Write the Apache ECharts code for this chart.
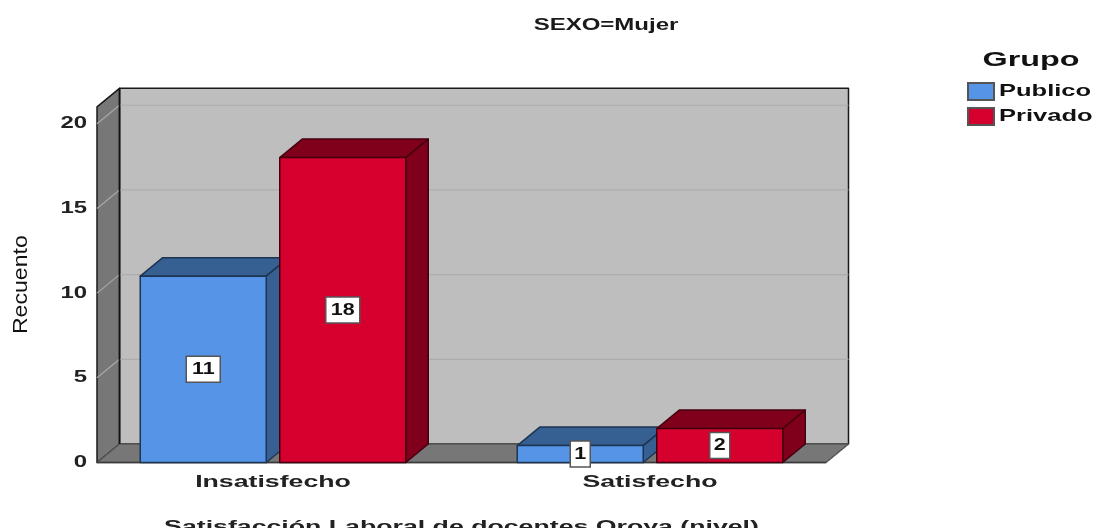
<!DOCTYPE html>
<html><head><meta charset="utf-8">
<style>html,body{margin:0;padding:0;background:#fff}#c{width:1096px;height:528px}</style>
<script src="https://cdn.jsdelivr.net/npm/echarts@6/dist/echarts.min.js"></script>
</head><body><div id="c"></div>
<script>
const categories = ['Insatisfecho', 'Satisfecho'];
const publico = [11, 1];
const privado = [18, 2];
const yTicks = [0, 5, 10, 15, 20];
const yMax = 21;
const chartTitle = 'SEXO=Mujer';
const legendTitle = 'Grupo';
const xName = 'Satisfacción Laboral de docentes Oroya (nivel)';
const yName = 'Recuento';

const FONT = '"Liberation Sans", Arial, sans-serif';
const INSET = 12.5, DX = 22.5, DY = -18.5;
const BAR_W = 126, BAR_GAP = 6.75;
const seriesStyle = {
  Publico: {front:'#5594e6', dark:'#365f92', line:'#1d3553', dir:-1},
  Privado: {front:'#d6002e', dark:'#80001c', line:'#45000f', dir:1}
};
const lineStyle = (c, w) => ({stroke:c, lineWidth:w, fill:null});

function renderFrame(params, api) {
  const cs = params.coordSys;
  const L = cs.x + INSET, R = cs.x + cs.width - INSET;
  const yZero = api.coord([0, 0])[1], T = cs.y;
  const kids = [];
  const poly = (pts, fill, stroke) => kids.push({type:'polygon', shape:{points:pts},
    style:{fill, stroke:stroke||'#1a1a1a', lineWidth:1.5, lineJoin:'round'}});
  poly([[L+DX,T+DY],[R+DX,T+DY],[R+DX,yZero+DY],[L+DX,yZero+DY]], '#bebebe');
  poly([[L,T],[L+DX,T+DY],[L+DX,yZero+DY],[L,yZero]], '#777777');
  poly([[L,yZero],[L+DX,yZero+DY],[R+DX,yZero+DY],[R,yZero]], '#777777', '#555555');
  yTicks.slice(1).forEach(t => {
    const y = api.coord([0, t])[1];
    kids.push({type:'polyline', shape:{points:[[L,y],[L+DX,y+DY]]}, style:lineStyle('#a8a8a8',1.2)});
    kids.push({type:'line', shape:{x1:L+DX,y1:y+DY,x2:R+DX,y2:y+DY}, style:lineStyle('#adadad',1.2)});
  });
  kids.push({type:'line', shape:{x1:L,y1:yZero,x2:R,y2:yZero}, style:lineStyle('#3a3a3a',1.5)});
  kids.push({type:'line', shape:{x1:L+DX,y1:T+DY,x2:L+DX,y2:yZero+DY}, style:lineStyle('#111',1.5)});
  return {type:'group', children:kids};
}

function renderBar(name) {
  const s = seriesStyle[name];
  return function (params, api) {
    const cat = api.value(0), v = api.value(1);
    const top = api.coord([cat, v]), base = api.coord([cat, 0]);
    const x0 = s.dir < 0 ? top[0] - BAR_GAP - BAR_W : top[0] + BAR_GAP;
    const x1 = x0 + BAR_W, yT = top[1], yB = base[1];
    const st = f => ({fill:f, stroke:s.line, lineWidth:1.5, lineJoin:'round'});
    const cx = (x0 + x1) / 2, cy = (yT + yB) / 2;
    const boxW = String(v).length > 1 ? 34 : 20;
    return {type:'group', children:[
      {type:'polygon', shape:{points:[[x0,yT],[x0+DX,yT+DY],[x1+DX,yT+DY],[x1,yT]]}, style:st(s.dark)},
      {type:'polygon', shape:{points:[[x1,yT],[x1+DX,yT+DY],[x1+DX,yB+DY],[x1,yB]]}, style:st(s.dark)},
      {type:'rect', shape:{x:x0,y:yT,width:BAR_W,height:yB-yT}, style:st(s.front)},
      {type:'rect', shape:{x:cx-boxW/2,y:cy-13,width:boxW,height:26}, style:{fill:'#fff',stroke:'#555',lineWidth:1.5}},
      {type:'text', x:cx, y:cy, scaleX:1.3, style:{text:String(v), align:'center', verticalAlign:'middle',
        fill:'#111', font:'bold 16.5px ' + FONT}}
    ]};
  };
}

const chart = echarts.init(document.getElementById('c'), null, {renderer:'canvas'});
chart.setOption({
  animation:false,
  backgroundColor:'#fff',
  title:[
    {text:chartTitle, left:606, top:26, padding:0, textAlign:'center', textVerticalAlign:'middle',
     textStyle:{fontFamily:FONT, fontSize:16, fontWeight:'bold', color:'#1a1a1a'}},
    {text:legendTitle, left:1031, top:60, padding:0, textAlign:'center', textVerticalAlign:'middle',
     textStyle:{fontFamily:FONT, fontSize:21, fontWeight:'bold', color:'#111'}}
  ],
  legend:{orient:'vertical', left:967, top:82, padding:0, itemWidth:26, itemHeight:17, itemGap:6, icon:'rect',
    data:['Publico','Privado'], selectedMode:false,
    textStyle:{fontFamily:FONT, fontSize:17, fontWeight:'bold', color:'#111'}},
  grid:{left:84.5, width:754, top:106.8, height:355.7, containLabel:false, outerBoundsMode:'none'},
  xAxis:{type:'category', data:categories, axisLine:{show:false}, axisTick:{show:false},
    axisLabel:{margin:11, fontFamily:FONT, fontSize:17, fontWeight:'bold', color:'#222'},
    name:xName, nameLocation:'middle', nameGap:56,
    nameTextStyle:{fontFamily:FONT, fontSize:17, fontWeight:'bold', color:'#222'}},
  yAxis:{type:'value', min:0, max:yMax, interval:5, offset:-INSET,
    axisLine:{show:false}, axisTick:{show:false}, splitLine:{show:false},
    axisLabel:{showMaxLabel:false, margin:10, padding:[6,0,0,0], fontFamily:FONT, fontSize:16.5, fontWeight:'bold', color:'#222'},
    name:yName, nameLocation:'middle', nameGap:65, nameRotate:90,
    nameTextStyle:{fontFamily:'"Liberation Sans Narrow", "Liberation Sans", sans-serif', fontSize:21, color:'#111'}},
  series:[
    {type:'custom', name:'frame', silent:true, z:1, renderItem:renderFrame, data:[[0,0]],
     encode:{x:0,y:1}},
    {type:'custom', name:'Publico', z:2, renderItem:renderBar('Publico'), itemStyle:{color:'#5594e6', borderColor:'#555', borderWidth:1.5},
     data:publico.map((v,i)=>[i,v]), encode:{x:0,y:1}},
    {type:'custom', name:'Privado', z:3, renderItem:renderBar('Privado'), itemStyle:{color:'#d6002e', borderColor:'#555', borderWidth:1.5},
     data:privado.map((v,i)=>[i,v]), encode:{x:0,y:1}}
  ]
});

// The reference's text is stretched horizontally; widen the rendered labels to match.
const stretch = {};
categories.forEach(t => stretch[t] = 1.57);
yTicks.forEach(t => stretch[String(t)] = 1.45);
stretch[chartTitle] = 1.5;
stretch[legendTitle] = 1.54;
stretch['Publico'] = 1.5;
stretch['Privado'] = 1.5;
stretch[xName] = 1.57;
stretch[yName] = 1.1;
const zr = chart.getZr();
zr.storage.traverse(el => {
  const t = el.style && el.style.text;
  if (typeof t === 'string' && stretch[t] && !el.scaleXDone && t.length > 0 && el.type !== 'tspan') {
    if (/^\d+$/.test(t) && el.parent && el.parent.type === 'group' && el.scaleX !== 1) return;
    el.originX = el.style.x || 0;
    el.scaleX = stretch[t];
    el.markRedraw();
  }
});
zr.refreshImmediately();
</script></body></html>
